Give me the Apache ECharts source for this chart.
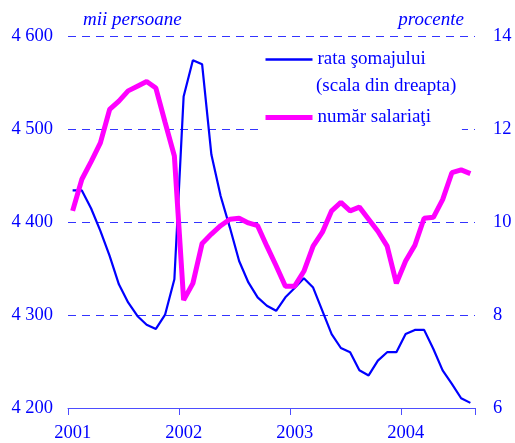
<!DOCTYPE html>
<html>
<head>
<meta charset="utf-8">
<script src="https://cdn.jsdelivr.net/npm/echarts@6/dist/echarts.min.js"></script>
<style>
  html, body { margin: 0; padding: 0; background: #fff; }
  #chart { width: 515px; height: 443px; }
</style>
</head>
<body>
<div id="chart"></div>
<script>
// date lunare, ian 2001 - aug 2004
const years = ['2001', '2002', '2003', '2004']
const monthsInLastYear = 8

// rata somajului, procente (scala din dreapta)
const rataSomaj = [
  10.68, 10.68, 10.29, 9.81, 9.27, 8.66, 8.27, 7.98, 7.79, 7.70, 8.01, 8.77,
  12.70, 13.48, 13.39, 11.45, 10.56, 9.88, 9.16, 8.70, 8.38, 8.20, 8.09, 8.38,
  8.58, 8.79, 8.59, 8.09, 7.59, 7.29, 7.20, 6.81, 6.70, 7.02, 7.20, 7.20,
  7.59, 7.68, 7.68, 7.27, 6.81, 6.52, 6.21, 6.11
]

// numar salariati, mii persoane
const nrSalariati = [
  4412, 4446, 4465, 4485, 4521, 4530, 4541, 4546, 4551, 4544, 4507, 4471,
  4316, 4334, 4377, 4387, 4396, 4403, 4404, 4399, 4396, 4374, 4353, 4331,
  4331, 4347, 4374, 4389, 4412, 4421, 4412, 4416, 4403, 4390, 4374, 4334,
  4358, 4375, 4404, 4405, 4424, 4453, 4456, 4452
]

const leftTicks = { min: 4200, max: 4600, interval: 100 }
const rightTicks = { min: 6, max: 14, interval: 2 }

const categories = []
years.forEach((y, k) => {
  const n = k === years.length - 1 ? monthsInLastYear : 12
  for (let m = 1; m <= n; m++) categories.push(y + '-' + (m < 10 ? '0' + m : m))
})

const BLUE = '#0000ff'
const MAGENTA = '#ff00ff'
const FONT = 'Liberation Serif'
const isJan = i => i % 12 === 0

const chart = echarts.init(document.getElementById('chart'), null, { renderer: 'canvas' })
chart.setOption({
  animation: false,
  backgroundColor: '#fff',
  grid: { left: 68, right: 40, top: 36, bottom: 34 },
  legend: {
    orient: 'vertical',
    left: 258,
    top: 44,
    padding: [6, 31, 6, 5],
    itemWidth: 47,
    itemHeight: 14,
    itemGap: 39,
    backgroundColor: '#fff',
    itemStyle: { opacity: 0 },
    textStyle: { fontFamily: FONT, fontSize: 19, color: BLUE },
    data: [
      { name: 'rata şomajului', lineStyle: { color: BLUE, width: 2.6 } },
      { name: 'număr salariaţi', lineStyle: { color: MAGENTA, width: 5 } }
    ]
  },
  graphic: [{
    type: 'text',
    left: 316,
    top: 77,
    z: 100,
    style: { text: '(scala din dreapta)', font: '19px "Liberation Serif"', fill: BLUE }
  }],
  xAxis: {
    type: 'category',
    boundaryGap: true,
    data: categories,
    axisLine: { lineStyle: { color: '#4d4dff', width: 1 } },
    axisTick: { show: true, interval: isJan, length: 7, lineStyle: { color: '#4d4dff', width: 1 } },
    axisLabel: {
      interval: isJan,
      formatter: v => v.slice(0, 4),
      margin: 16,
      fontFamily: FONT, fontSize: 18.5, color: BLUE
    },
    splitLine: { show: false }
  },
  yAxis: [{
    type: 'value',
    min: leftTicks.min, max: leftTicks.max, interval: leftTicks.interval,
    name: 'mii persoane',
    nameLocation: 'end',
    nameGap: 16,
    nameTextStyle: {
      fontFamily: FONT, fontSize: 19, fontStyle: 'italic', color: BLUE,
      align: 'left', verticalAlign: 'middle', padding: [0, 0, 0, 15]
    },
    axisLine: { show: false },
    axisTick: { show: false },
    axisLabel: {
      margin: 15,
      formatter: v => String(v).replace(/\B(?=(\d{3})+$)/, ' '),
      fontFamily: FONT, fontSize: 18.5, color: BLUE
    },
    splitLine: {
      show: true,
      showMinLine: false,
      lineStyle: { color: '#3333ff', width: 1, type: [8, 6] }
    }
  }, {
    type: 'value',
    position: 'right',
    min: rightTicks.min, max: rightTicks.max, interval: rightTicks.interval,
    name: 'procente',
    nameLocation: 'end',
    nameGap: 16,
    nameTextStyle: {
      fontFamily: FONT, fontSize: 19, fontStyle: 'italic', color: BLUE,
      align: 'right', verticalAlign: 'middle', padding: [0, 11, 0, 0]
    },
    axisLine: { show: false },
    axisTick: { show: false },
    axisLabel: { margin: 18, fontFamily: FONT, fontSize: 18.5, color: BLUE },
    splitLine: { show: false }
  }],
  series: [{
    name: 'rata şomajului',
    type: 'line',
    yAxisIndex: 1,
    data: rataSomaj,
    symbol: 'none',
    lineStyle: { color: BLUE, width: 2.2 },
    itemStyle: { color: BLUE }
  }, {
    name: 'număr salariaţi',
    type: 'line',
    yAxisIndex: 0,
    data: nrSalariati,
    symbol: 'none',
    lineStyle: { color: MAGENTA, width: 5 },
    itemStyle: { color: MAGENTA }
  }]
})
</script>
</body>
</html>
